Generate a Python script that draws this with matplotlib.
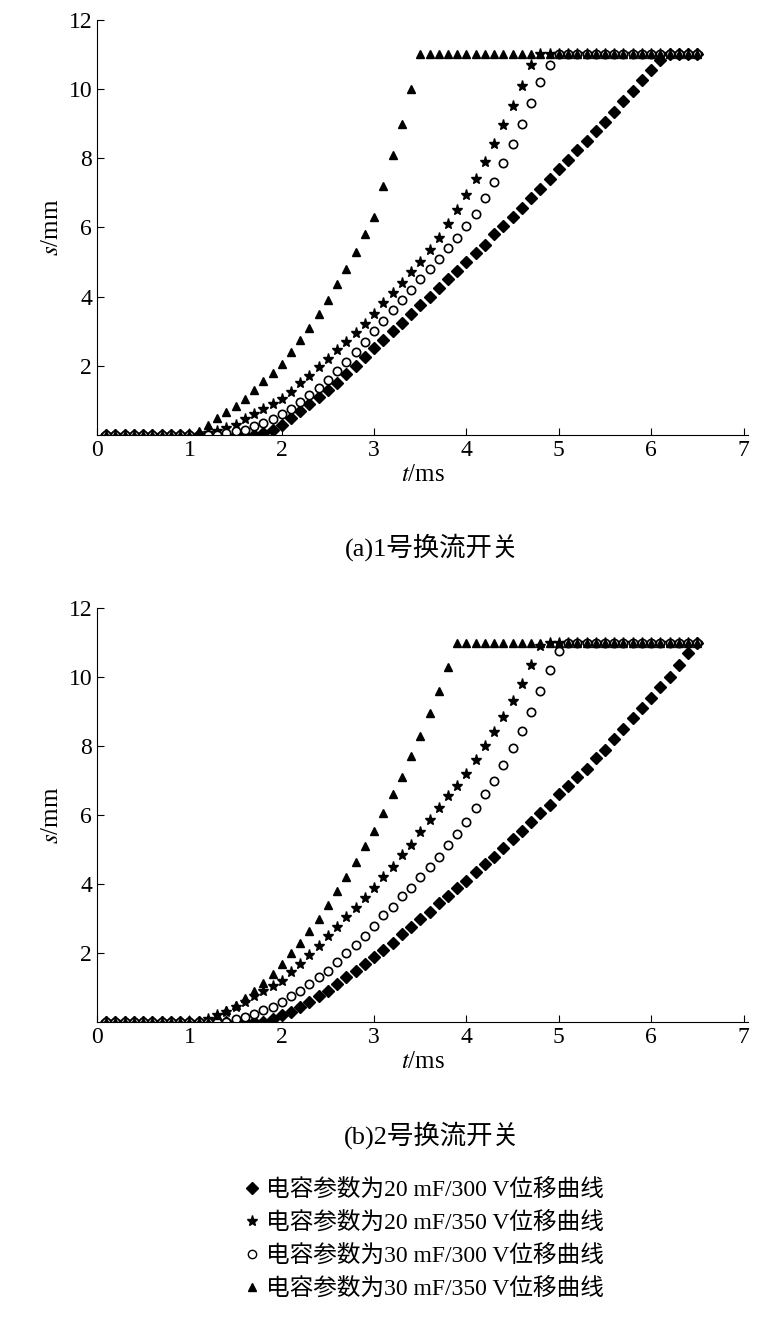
import numpy as np
import matplotlib.pyplot as plt
from matplotlib.lines import Line2D
from matplotlib import font_manager

# pick whatever name the CJK font is registered under
names = {f.name for f in font_manager.fontManager.ttflist}
cjk = [n for n in ['Noto Sans CJK SC', 'Noto Sans CJK JP', 'Noto Sans CJK TC', 'Noto Sans CJK KR'] if n in names]
plt.rcParams['font.family'] = ['Liberation Serif'] + cjk
plt.rcParams['mathtext.fontset'] = 'stix'

t = np.round(np.arange(1, 66) * 0.1, 1)

# (a) 1号换流开关
a_d = [0]*17 + [0.05,0.15,0.3,0.5,0.7,0.9,1.1,1.3,1.5,1.75,2.0,2.25,2.5,2.75,3.0,3.25,3.5,3.75,4.0,4.25,4.5,4.75,5.0,5.25,5.5,5.8,6.05,6.3,6.55,6.85,7.1,7.4,7.7,7.95,8.25,8.5,8.8,9.05,9.35,9.65,9.95,10.25,10.55,10.85] + [11]*4
a_s = [0]*11 + [0.05,0.1,0.2,0.3,0.45,0.6,0.75,0.9,1.05,1.25,1.5,1.7,1.95,2.2,2.45,2.7,2.95,3.2,3.5,3.8,4.1,4.4,4.7,5.0,5.35,5.7,6.1,6.5,6.95,7.4,7.9,8.4,8.95,9.5,10.1,10.7] + [11]*18
a_o = [0]*13 + [0.05,0.1,0.15,0.25,0.35,0.45,0.6,0.75,0.95,1.15,1.35,1.6,1.85,2.1,2.4,2.7,3.0,3.3,3.6,3.9,4.2,4.5,4.8,5.1,5.4,5.7,6.05,6.4,6.85,7.3,7.85,8.4,9.0,9.6,10.2,10.7] + [11]*16
a_t = [0]*10 + [0.1,0.3,0.5,0.65,0.85,1.05,1.3,1.55,1.8,2.05,2.4,2.75,3.1,3.5,3.9,4.35,4.8,5.3,5.8,6.3,7.2,8.1,9.0,10.0] + [11]*31

# (b) 2号换流开关
b_d = [0]*18 + [0.1,0.2,0.3,0.45,0.6,0.75,0.9,1.1,1.3,1.5,1.7,1.9,2.1,2.3,2.55,2.75,3.0,3.2,3.45,3.65,3.9,4.1,4.35,4.6,4.8,5.05,5.3,5.55,5.8,6.05,6.3,6.6,6.85,7.1,7.35,7.65,7.9,8.2,8.5,8.8,9.1,9.4,9.7,10.0,10.35,10.7,11.0]
b_s = [0]*11 + [0.1,0.2,0.3,0.45,0.6,0.75,0.9,1.05,1.2,1.45,1.7,1.95,2.2,2.5,2.75,3.05,3.3,3.6,3.9,4.2,4.5,4.85,5.15,5.5,5.85,6.2,6.55,6.85,7.2,7.6,8.0,8.4,8.85,9.3,9.8,10.35,10.9] + [11]*17
b_o = [0]*14 + [0.1,0.15,0.25,0.35,0.45,0.6,0.75,0.9,1.1,1.3,1.5,1.75,2.0,2.25,2.5,2.8,3.1,3.35,3.65,3.9,4.2,4.5,4.8,5.15,5.45,5.8,6.2,6.6,7.0,7.45,7.95,8.45,9.0,9.6,10.2,10.75] + [11]*15
b_t = [0]*12 + [0.2,0.35,0.5,0.7,0.9,1.15,1.4,1.7,2.0,2.3,2.65,3.0,3.4,3.8,4.2,4.65,5.1,5.55,6.05,6.6,7.1,7.7,8.3,8.95,9.6,10.3] + [11]*27

labels = ['电容参数为20 mF/300 V位移曲线', '电容参数为20 mF/350 V位移曲线',
          '电容参数为30 mF/300 V位移曲线', '电容参数为30 mF/350 V位移曲线']
markers = ['D', '*', 'o', '^']
sizes = [6, 8, 6, 6]
xticks = [0, 1, 2, 3, 4, 5, 6, 7]
yticks = [2, 4, 6, 8, 10, 12]

fig = plt.figure(figsize=(7.58, 13.26), dpi=100)
panels = [([0.128, 0.672, 0.859, 0.313], [a_d, a_s, a_o, a_t], '(a)1号换流开关', 0.587),
          ([0.128, 0.229, 0.859, 0.3125], [b_d, b_s, b_o, b_t], '(b)2号换流开关', 0.144)]

for rect, series, cap, cy in panels:
    ax = fig.add_axes(rect)
    for ys, m, ms in zip(series, markers, sizes):
        if m == 'o':
            ax.plot(t, ys, m, ms=ms, mfc='white', mec='black', mew=1.2, ls='none')
        else:
            ax.plot(t, ys, m, ms=ms, color='black', ls='none')
    ax.set_xlim(0, 7.05)
    ax.set_ylim(0, 12)
    ax.set_xticks(xticks)
    ax.set_yticks(yticks)
    ax.tick_params(labelsize=17, direction='in', length=5)
    ax.spines['top'].set_visible(False)
    ax.spines['right'].set_visible(False)
    ax.set_xlabel('$t$/ms', fontsize=18, labelpad=2)
    ax.set_ylabel('$s$/mm', fontsize=18, labelpad=4)
    fig.text(0.57, cy, cap, ha='center', va='center', fontsize=19)

handles = [Line2D([], [], marker=m, ls='none', ms=s, color='black',
                  mfc='white' if m == 'o' else 'black', mec='black')
           for m, s in zip(markers, sizes)]
fig.legend(handles, labels, loc='upper center', bbox_to_anchor=(0.56, 0.118),
           frameon=False, fontsize=17, handletextpad=0.3, labelspacing=0.45,
           handlelength=0.6, borderaxespad=0)

fig.savefig('out.png', dpi=100)
